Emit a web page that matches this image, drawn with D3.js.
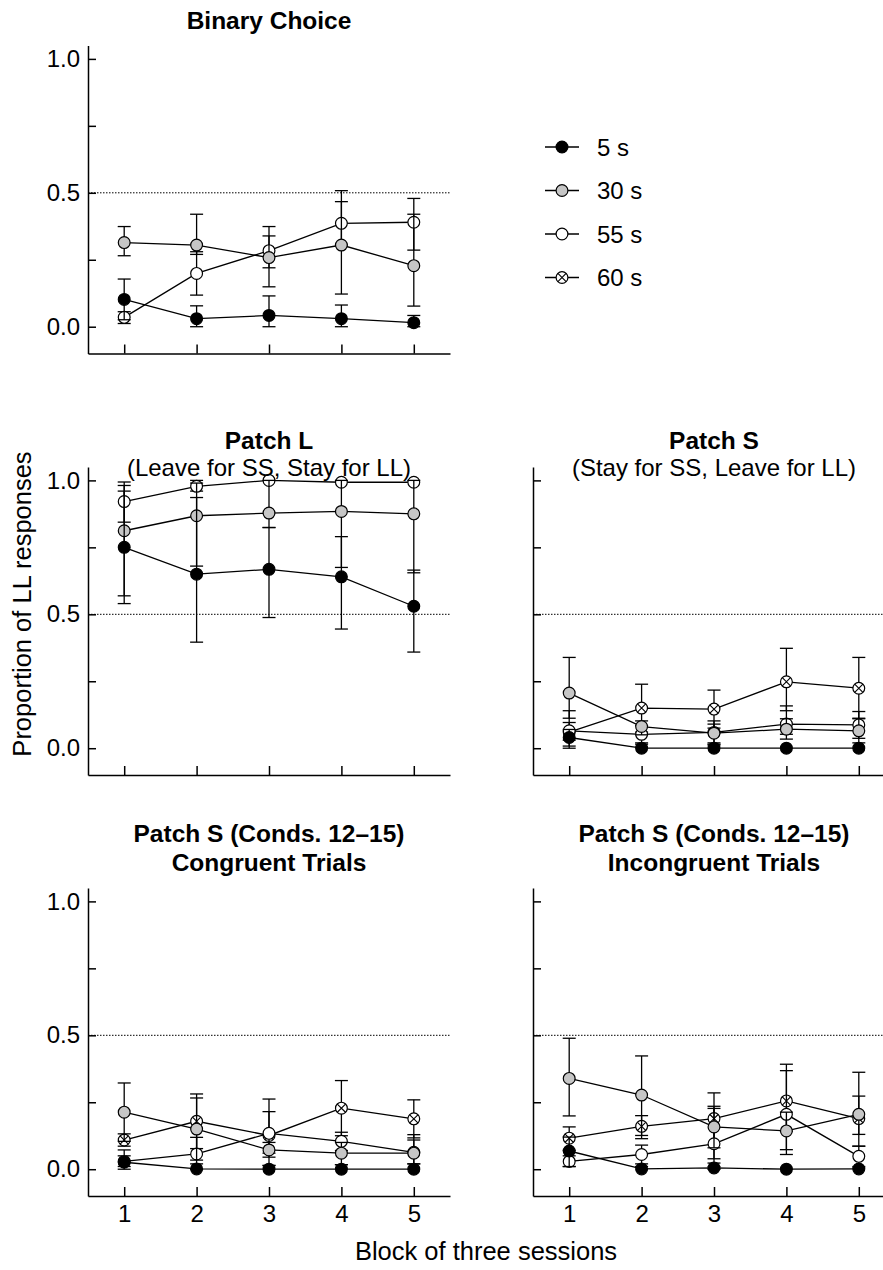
<!DOCTYPE html>
<head>
  <meta charset="utf-8">
  <script src="https://d3js.org/d3.v7.min.js"></script>
  <style>
    body { margin: 0; background: #fff; }
    .title { font-family: 'Liberation Sans', Arial, sans-serif; font-weight: bold; font-size: 24.5px; }
    .subtitle { font-family: 'Liberation Sans', Arial, sans-serif; font-size: 24px; }
    .tick text { font-family: 'Liberation Sans', Arial, sans-serif; font-size: 24px; fill: #000; }
    .lab { font-family: 'Liberation Sans', Arial, sans-serif; font-size: 24px; }
    .axlab { font-family: 'Liberation Sans', Arial, sans-serif; font-size: 25.5px; }
  </style>
</head>
<body>
<div id="chart"></div>
<script>

var blocks = [1, 2, 3, 4, 5];
var yTicks = [0, 0.25, 0.5, 0.75, 1.0];
var yTickLabels = ["0.0", "", "0.5", "", "1.0"];
var seriesNames = ["5 s", "30 s", "55 s", "60 s"];

// means, lower and upper bar ends; rows = 5 s, 30 s, 55 s, 60 s
var binaryMean = [
  [0.102, 0.030, 0.042, 0.030, 0.015],
  [0.314, 0.305, 0.258, 0.305, 0.228],
  [0.035, 0.199, 0.284, 0.386, 0.390]
];
var binaryLo = [
  [0.026, 0.0, 0.0, 0.0, 0.0],
  [0.265, 0.270, 0.149, 0.122, 0.077],
  [0.012, 0.118, 0.220, 0.305, 0.286]
];
var binaryHi = [
  [0.178, 0.078, 0.115, 0.081, 0.042],
  [0.374, 0.420, 0.339, 0.508, 0.420],
  [0.056, 0.280, 0.374, 0.467, 0.479]
];

var patchLMean = [
  [0.750, 0.650, 0.668, 0.640, 0.530],
  [0.812, 0.868, 0.878, 0.884, 0.875],
  [0.921, 0.978, 1.000, 0.993, 0.993]
];
var patchLLo = [
  [0.540, 0.396, 0.488, 0.445, 0.359],
  [0.569, 0.680, 0.824, 0.675, 0.655],
  [0.844, 0.960, 1.000, 0.993, 0.993]
];
var patchLHi = [
  [0.960, 0.936, 0.824, 0.790, 0.665],
  [0.981, 0.990, 1.000, 1.000, 1.000],
  [0.994, 1.000, 1.000, 0.993, 0.993]
];

var patchSMean = [
  [0.040, 0.000, 0.000, 0.000, 0.000],
  [0.206, 0.081, 0.056, 0.071, 0.065],
  [0.065, 0.052, 0.059, 0.090, 0.087],
  [0.060, 0.150, 0.146, 0.248, 0.224]
];
var patchSLo = [
  [0.008, 0.000, 0.000, 0.000, 0.000],
  [0.112, 0.050, 0.020, 0.052, 0.020],
  [0.030, 0.020, 0.015, 0.034, 0.037],
  [0.000, 0.060, 0.075, 0.140, 0.110]
];
var patchSHi = [
  [0.070, 0.015, 0.012, 0.000, 0.000],
  [0.339, 0.102, 0.090, 0.110, 0.112],
  [0.096, 0.085, 0.102, 0.158, 0.137],
  [0.140, 0.239, 0.217, 0.373, 0.339]
];

var congMean = [
  [0.026, 0.001, 0.000, 0.000, 0.000],
  [0.213, 0.150, 0.072, 0.060, 0.060],
  [0.029, 0.057, 0.134, 0.104, 0.063],
  [0.109, 0.179, 0.126, 0.228, 0.188]
];
var congLo = [
  [0.000, 0.000, 0.000, 0.000, 0.000],
  [0.104, 0.034, 0.045, 0.017, 0.020],
  [0.010, 0.000, 0.060, 0.070, 0.020],
  [0.086, 0.077, 0.014, 0.125, 0.117]
];
var congHi = [
  [0.072, 0.020, 0.014, 0.017, 0.000],
  [0.322, 0.266, 0.100, 0.100, 0.129],
  [0.050, 0.119, 0.215, 0.138, 0.109],
  [0.132, 0.281, 0.262, 0.331, 0.259]
];

var incongMean = [
  [0.068, 0.001, 0.005, 0.000, 0.001],
  [0.339, 0.277, 0.158, 0.143, 0.205],
  [0.029, 0.055, 0.095, 0.205, 0.048],
  [0.116, 0.160, 0.189, 0.255, 0.189]
];
var incongLo = [
  [0.010, 0.000, 0.000, 0.000, 0.000],
  [0.199, 0.126, 0.080, 0.073, 0.086],
  [0.010, 0.020, 0.039, 0.055, 0.010],
  [0.070, 0.114, 0.023, 0.142, 0.130]
];
var incongHi = [
  [0.120, 0.010, 0.010, 0.000, 0.005],
  [0.489, 0.423, 0.235, 0.213, 0.362],
  [0.050, 0.090, 0.227, 0.392, 0.086],
  [0.158, 0.200, 0.285, 0.368, 0.273]
];

var fills = ["#000", "#c6c6c6", "#fff", "#fff"];

var W = 883, H = 1270;
var pw = 362, ph = 308;

var svg = d3.select("#chart").append("svg")
  .attr("width", W).attr("height", H);

var panels = [
  { left: 88, top: 45.5, mean: binaryMean, lo: binaryLo, hi: binaryHi,
    lines: [["Binary Choice", "title", 20]], yLab: true, xLab: false },
  { left: 88, top: 467, mean: patchLMean, lo: patchLLo, hi: patchLHi,
    lines: [["Patch L", "title", 440], ["(Leave for SS, Stay for LL)", "subtitle", 467]], yLab: true, xLab: false },
  { left: 533, top: 467, mean: patchSMean, lo: patchSLo, hi: patchSHi,
    lines: [["Patch S", "title", 440], ["(Stay for SS, Leave for LL)", "subtitle", 467]], yLab: false, xLab: false },
  { left: 88, top: 888, mean: congMean, lo: congLo, hi: congHi,
    lines: [["Patch S (Conds. 12\u201315)", "title", 833], ["Congruent Trials", "title", 862]], yLab: true, xLab: true },
  { left: 533, top: 888, mean: incongMean, lo: incongLo, hi: incongHi,
    lines: [["Patch S (Conds. 12\u201315)", "title", 833], ["Incongruent Trials", "title", 862]], yLab: false, xLab: true }
];

function drawMarker(g, cx, cy, s) {
  g.append("circle").attr("cx", cx).attr("cy", cy).attr("r", 5.9)
    .attr("fill", fills[s]).attr("stroke", "#000").attr("stroke-width", 1.2);
  if (s === 3) {
    var d = 4.1;
    g.append("path")
      .attr("d", "M" + (cx - d) + "," + (cy - d) + "L" + (cx + d) + "," + (cy + d) +
                 "M" + (cx - d) + "," + (cy + d) + "L" + (cx + d) + "," + (cy - d))
      .attr("stroke", "#000").attr("stroke-width", 1.1);
  }
}

panels.forEach(function (p) {
  var x = d3.scaleLinear().domain([0.5, 5.5]).range([p.left, p.left + pw]);
  var y = d3.scaleLinear().domain([-0.1, 1.05]).range([p.top + ph, p.top]);
  var g = svg.append("g");

  // reference line at 0.5
  g.append("line")
    .attr("x1", x(0.5)).attr("x2", x(5.5))
    .attr("y1", y(0.5)).attr("y2", y(0.5))
    .attr("stroke", "#000").attr("stroke-width", 1)
    .attr("stroke-dasharray", "1.5,1.5");

  var ya = g.append("g").attr("transform", "translate(" + p.left + ",0)")
    .call(d3.axisLeft(y).tickValues(yTicks).tickSize(-8).tickSizeOuter(0).tickPadding(8)
      .tickFormat(function (d, i) { return p.yLab ? yTickLabels[i] : ""; }));
  var xa = g.append("g").attr("transform", "translate(0," + (p.top + ph) + ")")
    .call(d3.axisBottom(x).tickValues(blocks).tickSize(-9).tickSizeOuter(0).tickPadding(9)
      .tickFormat(function (d) { return p.xLab ? d3.format("d")(d) : ""; }));
  [ya, xa].forEach(function (a) {
    a.selectAll("path, line").attr("stroke", "#000").attr("stroke-width", 1.5);
  });

  var line = d3.line().x(function (d, i) { return x(blocks[i]); }).y(function (d) { return y(d); });

  for (var s = p.mean.length - 1; s >= 0; s--) {
    var sg = g.append("g");
    sg.append("path").datum(p.mean[s]).attr("d", line)
      .attr("fill", "none").attr("stroke", "#000").attr("stroke-width", 1.3);
    for (var i = 0; i < blocks.length; i++) {
      var cx = x(blocks[i]);
      var lo = p.lo[s][i], hi = p.hi[s][i];
      if (hi - lo > 0.001) {
        sg.append("line").attr("x1", cx).attr("x2", cx).attr("y1", y(lo)).attr("y2", y(hi))
          .attr("stroke", "#000").attr("stroke-width", 1.3);
        [lo, hi].forEach(function (v) {
          if (Math.abs(v - p.mean[s][i]) > 0.001)
            sg.append("line").attr("x1", cx - 6.5).attr("x2", cx + 6.5)
              .attr("y1", y(v)).attr("y2", y(v))
              .attr("stroke", "#000").attr("stroke-width", 1.3);
        });
      }
    }
    for (var j = 0; j < blocks.length; j++) {
      drawMarker(sg, x(blocks[j]), y(p.mean[s][j]), s);
    }
  }

  p.lines.forEach(function (t) {
    svg.append("text").attr("class", t[1])
      .attr("x", p.left + pw / 2).attr("y", t[2]).attr("dy", "0.36em")
      .attr("text-anchor", "middle").text(t[0]);
  });
});

// legend
var lg = svg.append("g");
seriesNames.forEach(function (name, s) {
  var ly = 147 + s * 43.5;
  lg.append("line").attr("x1", 545).attr("x2", 579).attr("y1", ly).attr("y2", ly)
    .attr("stroke", "#000").attr("stroke-width", 1.3);
  drawMarker(lg, 562, ly, s);
  lg.append("text").attr("class", "lab").attr("x", 597).attr("y", ly).attr("dy", "0.36em").text(name);
});

// axis titles
svg.append("text").attr("class", "axlab")
  .attr("transform", "translate(22,604) rotate(-90)")
  .attr("text-anchor", "middle").attr("dy", "0.36em")
  .text("Proportion of LL responses");
svg.append("text").attr("class", "axlab")
  .attr("x", 486).attr("y", 1251).attr("dy", "0.36em")
  .attr("text-anchor", "middle")
  .text("Block of three sessions");

</script>
</body>
</html>
